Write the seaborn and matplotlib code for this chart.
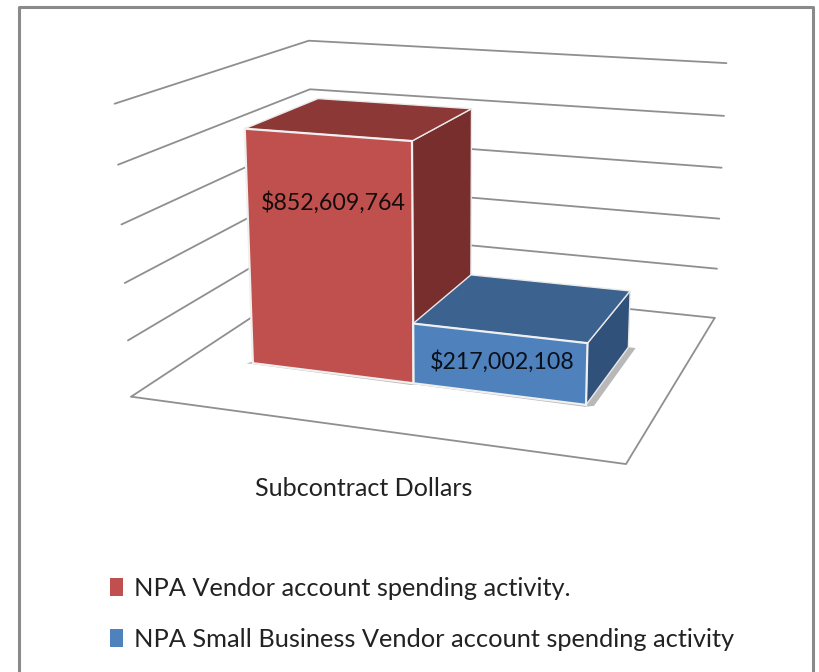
import numpy as np
import pandas as pd
import matplotlib
matplotlib.use('Agg')
import matplotlib.pyplot as plt
from matplotlib.patches import Patch, Polygon
from matplotlib.transforms import Transform
import seaborn as sns

# Chart data
category = 'Subcontract Dollars'
series_names = ['NPA Vendor account spending activity.',
                'NPA Small Business Vendor account spending activity']
dollars = [852609764, 217002108]
value_labels = ['$852,609,764', '$217,002,108']
grid_ticks = [0, 200e6, 400e6, 600e6, 800e6, 1000e6]

# Face colours of each box
front_colors = ['#C0504D', '#4F81BD']
top_colors = ['#8C3836', '#3C6290']
side_colors = ['#772E2C', '#30527A']

# View calibration: (x, value, depth) -> reference pixel
left_front_px = [(131, 396), (127, 341), (125, 283), (122, 225), (118, 165), (115, 103)]
right_back_px = [(715, 319), (718, 268), (718, 218), (720, 168), (724, 115), (728, 64)]
left_back_px = {0: (315, 276), 800e6: (310, 89), 1000e6: (308, 41)}
front_right_floor_px = (626, 464)

X_MIN, X_MAX = -0.5, 0.5
DEPTH_FRONT, DEPTH_BACK = 0.29, 0.70
AXIS_MAX = grid_ticks[-1]


def fit_camera():
    world, pixels = [], []
    for tick, a, b in zip(grid_ticks, left_front_px, right_back_px):
        world += [(X_MIN, tick / AXIS_MAX, 0.0), (X_MAX, tick / AXIS_MAX, 1.0)]
        pixels += [a, b]
    for tick, p in left_back_px.items():
        world.append((X_MIN, tick / AXIS_MAX, 1.0))
        pixels.append(p)
    world.append((X_MAX, 0.0, 0.0))
    pixels.append(front_right_floor_px)
    rows = []
    for (x, y, z), (u, v) in zip(world, pixels):
        rows.append([x, y, z, 1, 0, 0, 0, 0, -u * x, -u * y, -u * z, -u])
        rows.append([0, 0, 0, 0, x, y, z, 1, -v * x, -v * y, -v * z, -v])
    _, _, vt = np.linalg.svd(np.array(rows, dtype=float))
    return vt[-1].reshape(3, 4)


camera = fit_camera()


def project(x, value, depth):
    x, value, depth = np.broadcast_arrays(x, value, depth)
    pts = np.column_stack([x, value / AXIS_MAX, depth, np.ones(x.size)])
    out = pts @ camera.T
    return out[:, :2] / out[:, 2:]


class FrontPlane(Transform):
    """Puts the flat seaborn bars onto the front plane of the 3D boxes."""
    input_dims = 2
    output_dims = 2
    is_affine = False

    def transform_non_affine(self, values):
        values = np.asarray(values, dtype=float)
        return project(values[:, 0], values[:, 1], DEPTH_FRONT)


sns.set_theme(style='white')
plt.rcParams['font.family'] = ['Lato', 'DejaVu Sans']

fig = plt.figure(figsize=(8.19, 6.72), dpi=100)
px_ax = fig.add_axes([0, 0, 1, 1])
px_ax.set_xlim(0, 819)
px_ax.set_ylim(672, 0)
px_ax.axis('off')

# image frame
px_ax.plot([18.5, 18.5, 813, 813], [672, 6.5, 6.5, 672], color='#8a8a8a', lw=2.2)

# walls and floor
for tick in grid_ticks:
    wall = project(np.array([X_MIN, X_MIN, X_MAX]), np.full(3, tick), np.array([0.0, 1.0, 1.0]))
    px_ax.plot(wall[:, 0], wall[:, 1], color='#8f8f8f', lw=1.3, solid_capstyle='round')
floor = project(np.array([X_MIN, X_MAX, X_MAX]), np.zeros(3), np.array([0.0, 0.0, 1.0]))
px_ax.plot(floor[:, 0], floor[:, 1], color='#8f8f8f', lw=1.3)

# flat bars from seaborn, then reprojected
df = pd.DataFrame({'category': category, 'series': series_names, 'dollars': dollars})
bar_ax = fig.add_axes([0, 0, 1, 1], zorder=2)
bar_ax.patch.set_visible(False)
sns.barplot(data=df, x='category', y='dollars', hue='series', hue_order=series_names,
            palette=front_colors, saturation=1, width=0.72, gap=0, legend=False,
            ax=bar_ax)
bar_ax.axis('off')

bars = [container[0] for container in bar_ax.containers]
plane = FrontPlane() + px_ax.transData
for i, bar in enumerate(bars):
    x0, x1 = bar.get_x(), bar.get_x() + bar.get_width()
    v = bar.get_height()
    xs_top = np.array([x0, x1, x1, x0])
    zs_top = np.array([DEPTH_FRONT, DEPTH_FRONT, DEPTH_BACK, DEPTH_BACK])
    # soft shadow on the floor
    shadow = project(np.array([x0 - 0.012, x1, x1 + 0.016, x1 + 0.016, x1, x0]), np.zeros(6),
                     np.array([DEPTH_FRONT - 0.006, DEPTH_FRONT - 0.012, DEPTH_FRONT,
                               DEPTH_BACK, DEPTH_BACK, DEPTH_FRONT + 0.02]))
    px_ax.add_patch(Polygon(shadow, closed=True, fc='#a0a0a0', ec='none', alpha=0.75, zorder=3))
    side = project(np.full(4, x1), np.array([0, 0, v, v]),
                   np.array([DEPTH_FRONT, DEPTH_BACK, DEPTH_BACK, DEPTH_FRONT]))
    px_ax.add_patch(Polygon(side, closed=True, fc=side_colors[i], ec='#e9e9e9', lw=1.0, zorder=3))
    top = project(xs_top, np.full(4, v), zs_top)
    px_ax.add_patch(Polygon(top, closed=True, fc=top_colors[i], ec='#e9e9e9', lw=1.0, zorder=3))
    bar.set_transform(plane)
    bar.set_clip_on(False)
    bar.set_edgecolor('#f0f0f0')
    bar.set_linewidth(1.6)

bar_ax.text(333.5, 203, value_labels[0], transform=px_ax.transData, ha='center', va='center',
            fontsize=16.7, color='#140c0c')
bar_ax.text(502, 362, value_labels[1], transform=px_ax.transData, ha='center', va='center',
            fontsize=16.7, color='#0a1018')
bar_ax.text(363.5, 488, category, transform=px_ax.transData, ha='center', va='center',
            fontsize=18.1, color='#222222')

handles = [Patch(fc=c, ec='none') for c in front_colors]
bar_ax.legend(handles, series_names, loc='upper left', frameon=False, fontsize=18.3,
              bbox_to_anchor=(0.119, 0.161), bbox_transform=fig.transFigure,
              handlelength=0.5, handleheight=0.7, handletextpad=0.45, labelspacing=1.13,
              borderpad=0, labelcolor='#222222')

fig.savefig('out.png', dpi=100)
